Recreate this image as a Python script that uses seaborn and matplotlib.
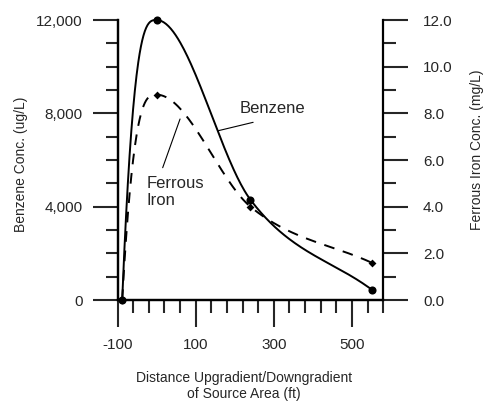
import numpy as np
import matplotlib
matplotlib.use("Agg")
import matplotlib.pyplot as plt
from matplotlib.ticker import FixedLocator, MultipleLocator, FuncFormatter
import seaborn as sns

# distance from source area (ft)
distance = [-88, 0, 240, 550]
benzene = [0, 12000, 4300, 450]        # ug/L
ferrous_iron = [0, 8.8, 4.0, 1.6]      # mg/L

x_major = [-100, 100, 300, 500]
benzene_ticks = [0, 4000, 8000, 12000]
iron_ticks = [0, 2, 4, 6, 8, 10, 12]


def smooth(x, y, n=80):
    # monotone cubic hermite curve through the points
    x = np.asarray(x, float)
    y = np.asarray(y, float)
    d = np.diff(y) / np.diff(x)
    m = np.zeros_like(x)
    m[0] = 3 * d[0]
    m[-1] = d[-1]
    for i in range(1, len(x) - 1):
        if d[i - 1] * d[i] > 0:
            m[i] = (d[i - 1] + d[i]) / 2
    xs, ys = [], []
    for i in range(len(x) - 1):
        h = x[i + 1] - x[i]
        t = np.linspace(0, 1, n)
        h00 = 2 * t**3 - 3 * t**2 + 1
        h10 = t**3 - 2 * t**2 + t
        h01 = -2 * t**3 + 3 * t**2
        h11 = t**3 - t**2
        xs.append(x[i] + t * h)
        ys.append(h00 * y[i] + h10 * h * m[i] + h01 * y[i + 1] + h11 * h * m[i + 1])
    return np.concatenate(xs), np.concatenate(ys)


sns.set_style("ticks")
plt.rcParams["font.family"] = ["Liberation Sans", "DejaVu Sans"]
plt.rcParams["axes.unicode_minus"] = False

fig = plt.figure(figsize=(4.87, 4.01), dpi=100)
ax = fig.add_axes([117.5 / 487, 1 - 300 / 401, 265.8 / 487, 280 / 401])
ax2 = ax.twinx()

bx, by = smooth(distance, benzene)
sns.lineplot(x=bx, y=by, ax=ax, color="black", lw=1.4, clip_on=False)
sns.scatterplot(x=distance, y=benzene, ax=ax, marker="o", s=34, color="black",
                linewidth=0, zorder=4, clip_on=False)

fx, fy = smooth(distance, ferrous_iron)
sns.lineplot(x=fx, y=fy, ax=ax2, color="black", lw=1.4, linestyle=(0, (5.5, 4.5)),
             clip_on=False)
sns.scatterplot(x=distance, y=ferrous_iron, ax=ax2, marker="D", s=16, color="black",
                linewidth=0, zorder=4, clip_on=False)

ax.set_xlim(-100, 580)
ax.set_ylim(0, 12000)
ax2.set_ylim(0, 12)

ax.xaxis.set_major_locator(FixedLocator(x_major))
ax.xaxis.set_minor_locator(FixedLocator(np.arange(-100, 581, 40)))
ax.yaxis.set_major_locator(FixedLocator(benzene_ticks))
ax.yaxis.set_minor_locator(MultipleLocator(1000))
ax.yaxis.set_major_formatter(FuncFormatter(lambda v, p: f"{v:,.0f}"))
ax2.yaxis.set_major_locator(FixedLocator(iron_ticks))
ax2.yaxis.set_minor_locator(MultipleLocator(1))
ax2.yaxis.set_major_formatter(FuncFormatter(lambda v, p: f"{v:.1f}"))

for a in (ax, ax2):
    a.spines["top"].set_visible(False)
    for s in a.spines.values():
        s.set_linewidth(1.6)
        s.set_color("black")
ax.spines["right"].set_visible(False)

ax.tick_params(axis="y", which="major", length=18, width=1.5, pad=7, labelsize=11)
ax.tick_params(axis="y", which="minor", length=9, width=1.5)
ax.tick_params(axis="x", which="major", length=19.5, width=1.5, pad=8, labelsize=11)
ax.tick_params(axis="x", which="minor", length=9.5, width=1.5)
ax2.tick_params(axis="y", which="major", length=18, width=1.5, pad=10.5, labelsize=11)
ax2.tick_params(axis="y", which="minor", length=9.5, width=1.5)

ax.set_ylabel("Benzene Conc. (ug/L)", fontsize=10, va="center")
ax.yaxis.set_label_coords(-0.363, 0.486)
ax2.set_ylabel("Ferrous Iron Conc. (mg/L)", fontsize=10, va="center", rotation=90)
ax2.yaxis.set_label_coords(1.351, 0.5375)
ax.set_xlabel("Distance Upgradient/Downgradient\nof Source Area (ft)", fontsize=10,
              va="center", linespacing=1.15)
ax.xaxis.set_label_coords(0.475, -0.307)

# labels with leader lines
ax.text(213, 8000, "Benzene", fontsize=12, va="baseline", ha="left")
ax.annotate("", xy=(158, 7256), xytext=(247, 7615),
            arrowprops=dict(arrowstyle="-", lw=0.8, color="black", shrinkA=0, shrinkB=0))
ax.text(-25, 4070, "Ferrous\nIron", fontsize=12, va="baseline", ha="left")
ax.annotate("", xy=(60, 7757), xytext=(15.6, 5670),
            arrowprops=dict(arrowstyle="-", lw=0.8, color="black", shrinkA=0, shrinkB=0))

fig.savefig("out.png", dpi=100)
